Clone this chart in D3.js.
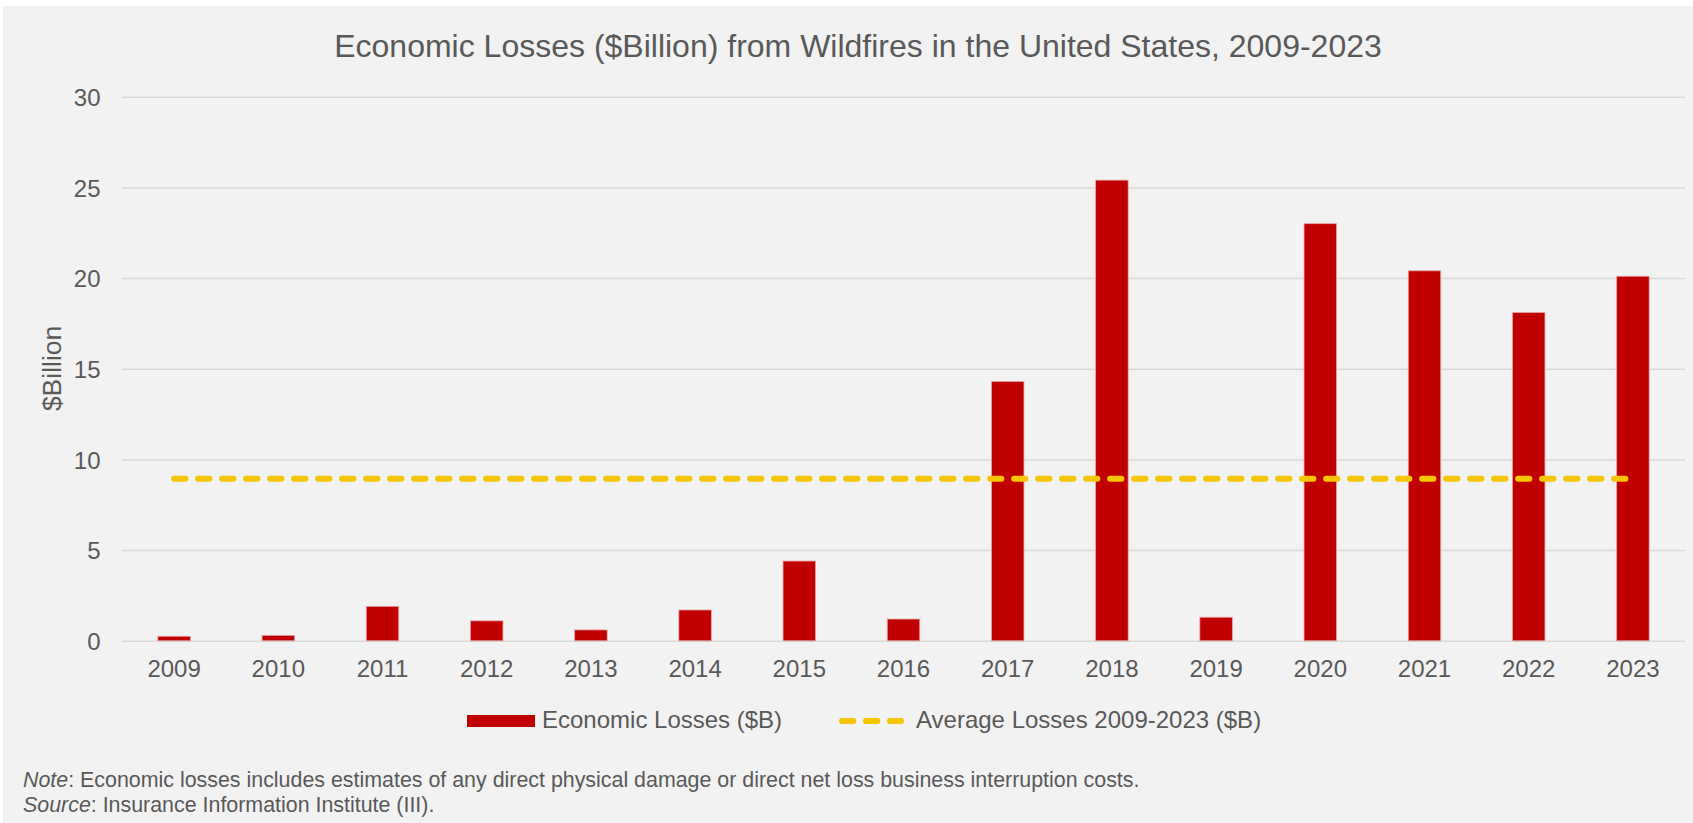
<!DOCTYPE html>
<html>
<head>
<meta charset="utf-8">
<script src="https://cdn.jsdelivr.net/npm/d3@7"></script>
<style>
  html, body { margin: 0; padding: 0; background: #ffffff; }
  svg { display: block; }
  text { font-family: "Liberation Sans", Arial, Helvetica, sans-serif; fill: #595959; }
</style>
</head>
<body>
<svg id="chart" width="1693" height="823"></svg>
<script>
// Wildfire economic losses by year, $ billions
const years = ["2009", "2010", "2011", "2012", "2013", "2014", "2015", "2016",
               "2017", "2018", "2019", "2020", "2021", "2022", "2023"];
const losses = [0.25, 0.3, 1.9, 1.1, 0.6, 1.7, 4.4, 1.2,
                14.3, 25.4, 1.3, 23.0, 20.4, 18.1, 20.1];
const yTicks = [0, 5, 10, 15, 20, 25, 30];

const titleText = "Economic Losses ($Billion) from Wildfires in the United States, 2009-2023";
const yTitleText = "$Billion";
const legendBarText = "Economic Losses ($B)";
const legendLineText = "Average Losses 2009-2023 ($B)";

const avgLoss = d3.mean(losses);

const svg = d3.select("#chart");
const W = 1693, H = 823;

const BG = "#F2F2F2", GRID = "#D9D9D9", RED = "#C00000", GOLD = "#F8C600";

// chart background
svg.append("rect").attr("x", 3).attr("y", 6).attr("width", W - 3).attr("height", H - 6).attr("fill", BG);

const plot = { left: 122, right: 1685, top: 96.7, bottom: 640.8 };

const x = d3.scaleBand()
  .domain(years)
  .range([plot.left, plot.right])
  .paddingInner(0.688)
  .paddingOuter(0.344);

const y = d3.scaleLinear()
  .domain([0, 30])
  .range([plot.bottom, plot.top]);

// title
svg.append("text")
  .attr("x", 858).attr("y", 56.7)
  .attr("text-anchor", "middle")
  .style("font-size", "32px")
  .text(titleText);

// y axis with gridlines
const yAxis = svg.append("g")
  .attr("transform", `translate(${plot.left},0)`)
  .call(d3.axisLeft(y).tickValues(yTicks).tickSize(-(plot.right - plot.left)).tickPadding(21.5));
yAxis.select(".domain").remove();
yAxis.selectAll(".tick line").attr("stroke", GRID).attr("stroke-width", 1.5);
yAxis.selectAll(".tick text")
  .attr("fill", "#595959")
  .style("font-size", "24px")
  .style("font-family", '"Liberation Sans", Arial, sans-serif')
  .attr("dy", "0.36em");

// y axis title
svg.append("text")
  .attr("transform", "translate(61,368.4) rotate(-90)")
  .attr("text-anchor", "middle")
  .style("font-size", "26.5px")
  .text(yTitleText);

// x axis labels
const xAxis = svg.append("g")
  .attr("transform", `translate(0,${plot.bottom})`)
  .call(d3.axisBottom(x).tickSize(0).tickPadding(19.5));
xAxis.select(".domain").remove();
xAxis.selectAll(".tick text")
  .attr("fill", "#595959")
  .style("font-size", "24px")
  .style("font-family", '"Liberation Sans", Arial, sans-serif');

// bars
svg.append("g")
  .selectAll("rect")
  .data(years.map((yr, i) => ({ yr, v: losses[i] })))
  .join("rect")
  .attr("x", d => x(d.yr))
  .attr("y", d => y(d.v))
  .attr("width", x.bandwidth())
  .attr("height", d => y(0) - y(d.v))
  .attr("fill", RED)
  .attr("stroke", "#E9A3A3")
  .attr("stroke-width", 0.8);

// average line
const line = d3.line()
  .x(d => x(d) + x.bandwidth() / 2)
  .y(() => y(avgLoss));
svg.append("path")
  .datum(years)
  .attr("d", line)
  .attr("fill", "none")
  .attr("stroke", GOLD)
  .attr("stroke-width", 6)
  .attr("stroke-linecap", "round")
  .attr("stroke-dasharray", "11.3 12.7");

// legend
const legend = svg.append("g");
legend.append("rect")
  .attr("x", 467).attr("y", 715).attr("width", 68).attr("height", 12)
  .attr("fill", RED);
legend.append("text")
  .attr("x", 542).attr("y", 728.3)
  .style("font-size", "24px")
  .text(legendBarText);
legend.append("line")
  .attr("x1", 842).attr("x2", 901).attr("y1", 721).attr("y2", 721)
  .attr("stroke", GOLD).attr("stroke-width", 6)
  .attr("stroke-linecap", "round")
  .attr("stroke-dasharray", "11.3 12.7");
legend.append("text")
  .attr("x", 916).attr("y", 728.3)
  .style("font-size", "24px")
  .text(legendLineText);

// footnotes
const note = svg.append("text").attr("x", 23).attr("y", 786.7).style("font-size", "21.4px");
note.append("tspan").style("font-style", "italic").text("Note");
note.append("tspan").text(": Economic losses includes estimates of any direct physical damage or direct net loss business interruption costs.");

const src = svg.append("text").attr("x", 23).attr("y", 812.3).style("font-size", "21.4px");
src.append("tspan").style("font-style", "italic").text("Source");
src.append("tspan").text(": Insurance Information Institute (III).");
</script>
</body>
</html>
